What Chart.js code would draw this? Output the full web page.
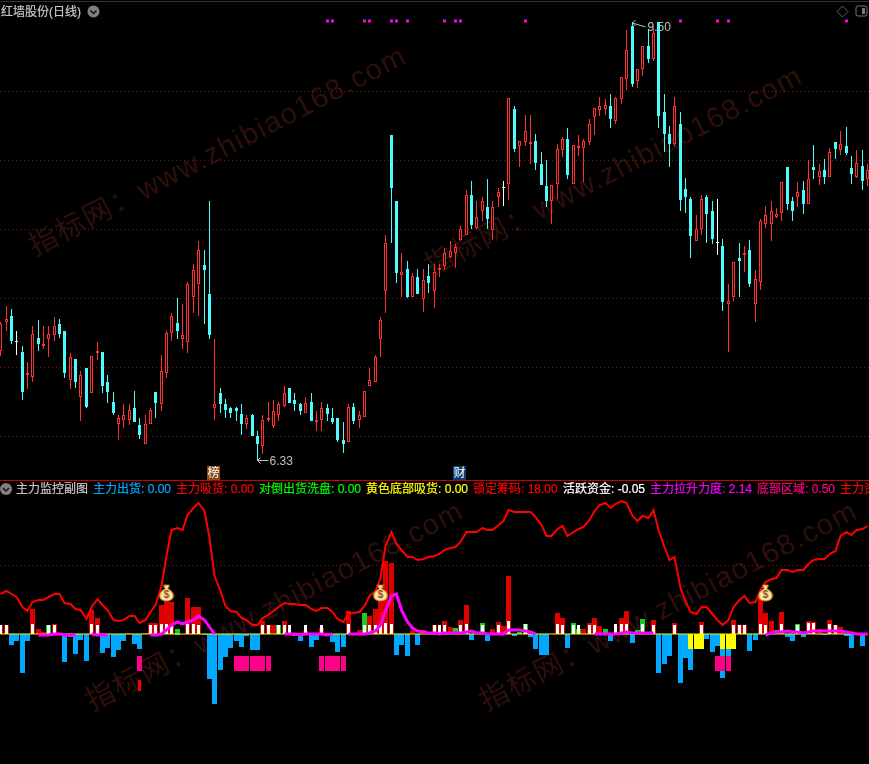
<!DOCTYPE html>
<html lang="zh">
<head>
<meta charset="utf-8">
<title>主力监控副图</title>
<script src="https://cdn.jsdelivr.net/npm/chart.js@4/dist/chart.umd.js"></script>
<style>
    html, body { margin: 0; padding: 0; width: 869px; height: 764px; background: #000; overflow: hidden; }
    body { position: relative; font-family: "Liberation Sans", "Noto Sans CJK SC", sans-serif; font-size: 12px; }
    canvas { position: absolute; left: 0; z-index: 2; }
    #price-chart { top: 0; }
    #flow-chart { top: 481px; }
    .mark { position: absolute; white-space: nowrap; line-height: 14px; z-index: 3; -webkit-text-stroke: 0.2px currentColor; }
    .rule { position: absolute; left: 0; width: 869px; height: 1px; z-index: 3; }
    .watermark { position: absolute; white-space: nowrap; z-index: 1; color: #2e0f0a; font-size: 29px; letter-spacing: 1.5px;
                 line-height: 1; transform-origin: 0 100%; transform: rotate(-27.5deg); }
    .badge { position: absolute; width: 13px; height: 14px; line-height: 14px; color: #fff; text-align: center; z-index: 3; }
    svg.icon { position: absolute; z-index: 3; }
</style>
</head>
<body>
<div class="watermark" style="left:37px;top:232px">指标网：www.zhibiao168.com</div>
<div class="watermark" style="left:433px;top:252px">指标网：www.zhibiao168.com</div>
<div class="watermark" style="left:94px;top:687px">指标网：www.zhibiao168.com</div>
<div class="watermark" style="left:488px;top:687px">指标网：www.zhibiao168.com</div>

<canvas id="price-chart" width="869" height="479"></canvas>
<canvas id="flow-chart" width="869" height="283"></canvas>

<div class="rule" style="top:1px;background:#333"></div>
<div class="rule" style="top:480px;background:#c80000"></div>

<div class="mark" style="left:1px;top:5px;color:#c8c8c8">红墙股份(日线)</div>
<svg class="icon" style="left:87px;top:5px" width="13" height="13"><circle cx="6.5" cy="6.5" r="6" fill="#808080"/><path d="M3.5 5.5 L6.5 8.5 L9.5 5.5" stroke="#111" stroke-width="1.4" fill="none"/></svg>
<svg class="icon" style="left:836px;top:5px" width="13" height="13"><path d="M6.5 1 L12 6.5 L6.5 12 L1 6.5 Z" stroke="#666" fill="none"/></svg>
<svg class="icon" style="left:855px;top:5px" width="13" height="13"><rect x="1" y="1" width="11" height="10" rx="2" stroke="#777" fill="none"/><rect x="7" y="3" width="3" height="6" fill="#777"/></svg>
<div class="badge" style="left:207px;top:466px;background:#8a4a12">榜</div>
<div class="badge" style="left:453px;top:466px;background:#0c3a72">财</div>

<svg class="icon" style="left:0;top:483px" width="13" height="13"><circle cx="6" cy="6" r="6" fill="#808080"/><path d="M3 5 L6 8 L9 5" stroke="#111" stroke-width="1.4" fill="none"/></svg>
<div class="mark" style="left:16px;top:482px;color:#c8c8c8">主力监控副图</div>
<div class="mark" style="left:93px;top:482px;color:#00a8ff">主力出货: 0.00</div>
<div class="mark" style="left:176px;top:482px;color:#ff0000">主力吸货: 0.00</div>
<div class="mark" style="left:259px;top:482px;color:#00ff00">对倒出货洗盘: 0.00</div>
<div class="mark" style="left:366px;top:482px;color:#ffff00">黄色底部吸货: 0.00</div>
<div class="mark" style="left:473px;top:482px;color:#ff0000">锁定筹码: 18.00</div>
<div class="mark" style="left:563px;top:482px;color:#ffffff">活跃资金: -0.05</div>
<div class="mark" style="left:650px;top:482px;color:#ff00ff">主力拉升力度: 2.14</div>
<div class="mark" style="left:757px;top:482px;color:#ff0080">底部区域: 0.50</div>
<div class="mark" style="left:840px;top:482px;color:#ff0000">主力资金</div>

<script>
// ── Price pane data ─────────────────────────────────────────

const candleHigh = [
    7.33,7.44,7.42,7.26,7.15,7.04,7.30,7.34,7.30,7.30,
    7.36,7.35,7.26,7.10,7.06,6.97,6.99,7.08,7.18,7.11,
    6.94,6.82,6.65,6.73,6.73,6.83,6.63,6.65,6.70,6.82,
    7.09,7.26,7.39,7.50,7.46,7.62,7.75,7.91,7.85,8.20,
    7.20,6.85,6.77,6.71,6.71,6.73,6.65,6.66,6.54,6.65,
    6.75,6.76,6.75,6.86,6.85,6.81,6.74,6.78,6.81,6.68,
    6.75,6.73,6.70,6.63,6.60,6.73,6.74,6.68,6.83,6.99,
    7.09,7.36,7.96,8.68,8.20,7.83,7.77,7.68,7.71,7.71,
    7.75,7.75,7.75,7.86,7.91,7.89,8.02,8.28,8.35,8.20,
    8.23,8.36,8.20,8.30,8.35,8.95,8.89,8.64,8.83,8.83,
    8.69,8.56,8.50,8.32,8.62,8.67,8.73,8.61,8.68,8.65,
    8.80,8.88,8.96,8.94,8.98,8.96,9.10,9.44,9.50,9.16,
    9.33,9.45,9.46,9.50,8.98,8.75,8.96,8.85,8.37,8.23,
    8.10,8.25,8.25,8.20,8.22,7.93,7.60,7.76,7.90,7.88,
    7.92,7.70,8.07,8.17,8.20,8.15,8.34,8.45,8.23,8.34,
    8.35,8.50,8.61,8.47,8.51,8.59,8.63,8.71,8.74,8.53,
    8.57,8.57,8.47
];

const candleLow = [
    7.08,7.26,7.17,7.09,6.76,6.84,6.89,7.12,7.13,7.07,
    7.19,7.21,6.92,6.84,6.85,6.61,6.70,6.81,7.05,6.81,
    6.74,6.65,6.47,6.56,6.58,6.60,6.48,6.44,6.59,6.63,
    6.68,6.92,7.19,7.20,7.13,7.10,7.39,7.37,7.31,7.20,
    6.62,6.67,6.63,6.63,6.61,6.51,6.55,6.50,6.33,6.37,
    6.60,6.56,6.61,6.71,6.74,6.68,6.65,6.67,6.61,6.54,
    6.54,6.61,6.59,6.46,6.38,6.46,6.59,6.56,6.64,6.86,
    6.89,7.07,7.39,7.90,7.61,7.51,7.50,7.51,7.53,7.40,
    7.54,7.43,7.65,7.70,7.79,7.72,7.91,7.96,8.00,8.00,
    8.06,8.00,7.92,8.16,8.17,8.21,8.56,8.45,8.60,8.47,
    8.43,8.32,8.16,8.04,8.22,8.52,8.36,8.33,8.53,8.34,
    8.61,8.68,8.82,8.83,8.73,8.76,8.91,9.01,9.03,9.02,
    9.11,9.20,9.22,8.73,8.56,8.45,8.60,8.13,8.12,7.79,
    7.91,7.96,7.90,7.89,7.81,7.41,7.11,7.48,7.51,7.69,
    7.58,7.33,7.56,8.01,7.91,8.08,8.06,8.14,8.06,8.16,
    8.11,8.18,8.36,8.32,8.33,8.38,8.51,8.54,8.54,8.33,
    8.37,8.28,8.31
];

const candleOpen = [
    7.12,7.33,7.37,7.18,7.11,6.94,6.93,7.21,7.15,7.20,
    7.23,7.31,7.26,6.91,7.06,6.78,6.99,6.81,7.10,7.11,
    6.89,6.75,6.59,6.62,6.62,6.70,6.58,6.44,6.59,6.82,
    6.73,6.96,7.25,7.32,7.20,7.18,7.51,7.60,7.74,7.53,
    6.70,6.81,6.73,6.70,6.70,6.66,6.59,6.65,6.50,6.43,
    6.62,6.57,6.65,6.72,6.85,6.76,6.73,6.67,6.75,6.60,
    6.62,6.70,6.63,6.63,6.47,6.46,6.71,6.62,6.64,6.86,
    6.89,7.20,7.55,8.68,8.20,7.67,7.71,7.51,7.65,7.49,
    7.66,7.55,7.70,7.73,7.80,7.83,7.92,7.96,8.25,8.01,
    8.13,8.16,7.99,8.23,8.30,8.33,8.87,8.60,8.63,8.62,
    8.64,8.47,8.31,8.20,8.33,8.57,8.65,8.33,8.59,8.59,
    8.63,8.81,8.86,8.87,8.89,8.78,8.94,9.09,9.47,9.07,
    9.16,9.33,9.23,9.50,8.85,8.69,8.62,8.76,8.29,8.22,
    7.91,8.00,8.23,8.13,7.90,7.88,7.46,7.51,7.79,7.81,
    7.85,7.46,7.62,8.04,8.04,8.09,8.12,8.45,8.20,8.23,
    8.28,8.18,8.45,8.38,8.43,8.38,8.63,8.57,8.60,8.44,
    8.38,8.46,8.36
];

const candleClose = [
    7.31,7.35,7.19,7.18,6.82,6.96,7.24,7.17,7.17,7.24,
    7.30,7.24,6.96,7.07,6.89,6.94,6.71,7.08,7.12,6.86,
    6.82,6.67,6.63,6.65,6.69,6.60,6.51,6.59,6.69,6.74,
    6.97,7.25,7.37,7.26,7.23,7.60,7.70,7.85,7.70,7.23,
    6.73,6.73,6.69,6.67,6.68,6.59,6.63,6.50,6.44,6.62,
    6.63,6.68,6.73,6.81,6.74,6.73,6.68,6.74,6.61,6.62,
    6.70,6.66,6.60,6.47,6.44,6.71,6.61,6.65,6.83,6.91,
    7.07,7.34,7.90,8.30,7.68,7.69,7.51,7.66,7.53,7.63,
    7.61,7.69,7.72,7.83,7.84,7.87,8.00,8.25,8.03,8.09,
    8.20,8.07,8.16,8.27,8.30,8.95,8.58,8.64,8.71,8.63,
    8.48,8.32,8.20,8.32,8.58,8.65,8.39,8.61,8.60,8.64,
    8.76,8.88,8.89,8.90,8.80,8.95,9.10,9.30,9.05,9.16,
    9.33,9.23,9.42,8.82,8.69,8.62,8.89,8.21,8.23,7.95,
    8.00,8.22,8.11,7.93,7.90,7.47,7.48,7.76,7.77,7.83,
    7.60,7.64,8.06,8.10,8.13,8.11,8.34,8.18,8.13,8.27,
    8.18,8.36,8.43,8.42,8.38,8.56,8.58,8.62,8.55,8.40,
    8.48,8.35,8.43
];

const priceTicks = [6.5, 7, 7.5, 8, 8.5, 9];
const signalIndexes = [61, 62, 68, 69, 73, 74, 76, 83, 85, 86, 98, 127, 134, 136, 158];
const signalPrice = 9.51;
const lowMark = { index: 48, price: 6.33, label: '6.33' };
const highMark = { index: 118, price: 9.50, label: '9.50' };

// ── Flow pane data ([bar index, value] pairs) ───────────────

const outflowBars = [
    [2,-2.27],[3,-1.47],[4,-7.73],[5,-1.33],[12,-5.53],[13,-0.5],[14,-3.93],[15,-1.13],[16,-5.33],
    [19,-3.73],[20,-2.73],[21,-4.53],[22,-3.13],[23,-1.33],[25,-1.93],[26,-2.93],[33,-0.2],[38,-0.2],
    [39,-8.93],[40,-13.93],[41,-7.13],[42,-4.53],[43,-2.73],[44,-1.33],[45,-2.53],[46,-0.47],[47,-3.13],[48,-3.13],
    [55,-0.47],[56,-1.33],[58,-2.53],[59,-1.13],[62,-1.53],[63,-3.53],[64,-2.53],
    [74,-4.13],[75,-2.13],[76,-4.33],[78,-2.13],[88,-1.13],[91,-1.33],[96,-0.47],
    [99,-0.67],[100,-2.93],[101,-4.13],[102,-4.13],[106,-2.73],[114,-1.33],[118,-1.73],
    [123,-7.73],[124,-5.93],[125,-4.33],[127,-9.73],[128,-4.73],[129,-7.13],
    [132,-0.93],[133,-3.53],[134,-2.33],[135,-8.73],[136,-7.33],[140,-3.33],[141,-1.13],
    [147,-0.67],[148,-1.33],[150,-0.67],[154,-0.27],[158,-0.47],[159,-2.73],[161,-2.33]
];

const inflowBars = [
    [0,1.87],[1,1.87],[6,5.07],[7,1.07],[8,0.47],[10,2.07],[17,4.87],[18,3.27],[24,0.2],[27,0.2],
    [28,2.27],[29,2.27],[30,5.87],[31,6.87],[32,6.47],[35,7.27],[36,5.47],[37,5.47],
    [49,2.67],[50,1.87],[51,1.87],[53,2.67],[57,0.67],[60,1.2],[65,4.67],[67,0.87],[69,3.67],[70,5.07],
    [71,7.07],[72,14.67],[73,14.27],[77,0.67],[79,0.87],[81,1.87],[83,2.67],[84,1.47],[86,2.87],[87,5.87],
    [92,1.07],[93,2.47],[94,1.67],[95,11.67],[104,4.27],[105,3.27],[109,1.07],[110,2.27],[111,3.27],[112,1.67],
    [116,3.27],[117,4.67],[122,2.87],[126,2.27],[131,2.47],[137,2.87],[138,1.87],[139,1.87],
    [142,7.27],[143,4.27],[144,2.67],[146,4.47],[151,2.67],[152,2.47],[153,1.07],[155,2.87],[156,1.87],[157,1.47]
];

const washBars = [
    [9,1.87],[33,1.07],[52,1.87],[68,4.27],[85,1.27],[90,2.27],[97,0.4],[98,2.07],[107,2.27],[108,1.07],
    [113,1.07],[119,0.87],[120,3.07],[145,0.87],[149,2.07]
];

const activeBars = [
    [0,1.87],[1,1.87],[6,2.07],[9,1.87],[10,1.87],[17,2.07],[18,1.87],[28,1.87],[29,1.87],[30,2.07],[31,2.07],
    [32,1.87],[35,2.07],[36,2.07],[37,1.87],[49,1.87],[50,1.87],[52,1.87],[53,1.87],[54,1.87],[57,1.87],[60,1.87],
    [65,2.07],[68,1.87],[69,1.87],[70,1.87],[71,1.87],[72,2.27],[73,2.07],[81,1.87],[82,1.87],[83,1.87],[86,1.87],
    [87,2.07],[90,1.87],[93,1.87],[95,2.67],[98,2.07],[104,2.07],[105,1.87],[107,1.87],[108,1.87],[110,1.87],
    [111,1.87],[115,2.07],[116,2.07],[117,2.07],[120,2.07],[122,1.87],[126,1.87],[131,1.87],[137,1.87],[138,1.87],
    [139,1.87],[142,2.07],[143,1.87],[146,2.07],[149,1.87],[151,2.27],[152,2.27],[155,2.07],[156,1.87]
];

const yellowBars = [[129,-2.93],[130,-2.93],[131,-2.93],[135,-2.93],[136,-2.93],[137,-2.93]];

const bottomZoneIndexes = [26, 44, 45, 46, 47, 48, 49, 50, 60, 61, 62, 63, 64, 134, 135, 136];
const bottomZoneRange = [-4.33, -7.33];
const lockBar = [26, [-9.13, -11.33]];

const lockedChips = [
    8.07,8.6,8.07,7.47,5.4,4.6,6.4,6.73,6.87,7.47,
    8.0,8.0,6.2,6.07,5.0,4.87,3.0,5.4,7.07,5.87,
    4.87,2.73,2.67,2.73,3.67,3.67,2.2,2.87,4.33,5.87,
    9.53,15.53,20.87,21.13,20.73,23.87,25.2,26.2,24.53,19.2,
    11.53,8.53,5.53,4.6,4.33,3.2,2.87,1.87,1.87,3.2,
    3.87,4.53,5.33,6.2,6.07,6.07,5.73,5.73,5.0,4.67,
    5.2,5.2,4.4,3.07,2.33,4.2,4.2,4.4,5.53,7.53,
    8.53,11.2,17.53,20.4,18.07,16.73,15.4,15.4,14.87,15.0,
    15.4,15.53,16.0,16.87,17.13,17.33,18.33,20.4,20.33,20.4,
    21.27,20.87,20.87,21.87,22.53,24.87,24.47,24.47,24.47,24.47,
    23.4,21.87,19.53,19.53,21.0,21.53,19.67,20.4,21.07,21.4,
    22.87,24.53,25.87,26.13,25.2,26.0,26.67,26.2,23.53,22.67,
    23.53,23.2,24.73,20.87,17.4,14.87,15.4,9.2,6.53,4.33,
    4.07,5.4,5.4,4.07,2.73,1.8,2.73,5.4,6.73,7.53,
    6.2,6.33,8.87,10.33,11.0,11.2,12.87,12.73,12.33,12.8,
    12.87,14.0,14.73,14.93,15.07,16.07,16.53,19.53,20.47,19.87,
    20.87,21.0,21.53
];

const pullUpForce = [
    null,null,null,null,null,null,null,-0.2,-0.2,-0.2,
    0,0,-0.2,-0.2,-0.2,null,null,0,-0.2,-0.2,
    -0.2,null,null,null,null,null,null,null,-0.2,-0.2,
    0,0.8,1.87,2.33,2.07,2.33,2.87,3.67,2.87,1.47,
    0,null,null,null,null,null,null,null,null,null,
    null,null,null,0,0,0,-0.1,0,0,0,
    0,-0.1,0,null,null,0,0,0,0,0.2,
    0.6,1.8,4.53,7.67,7.93,4.87,2.33,1.27,0.53,0.33,
    0.2,0.2,0,0.2,0.2,0.2,0.2,0.4,0.6,0.2,
    0.2,0.07,0.07,0.07,0.07,0.8,0.8,0.87,0.6,0.4,
    0.07,null,null,null,null,null,null,null,null,null,
    null,0,0,0,0,0,0.2,0.4,0.2,0.2,
    0.2,0.2,0.2,null,null,null,null,null,null,null,
    null,null,null,null,null,null,null,null,null,null,
    null,null,null,-0.2,0.2,0.33,0.4,0.6,0.4,0.33,
    0.2,0.47,0.6,0.6,0.6,0.6,0.6,0.6,0.4,0.2,
    0,0,0
];

const moneyBagIndexes = [31, 71, 143];
const moneyBagValue = 8.2;
const flowTicks = [13.8];

// ── Colours ─────────────────────────────────────────────────

const COLORS = {
    up: '#ff3030',
    down: '#4dfcfc',
    doji: '#ffffff',
    grid: '#7c1414',
    label: '#c0c0c0',
    signal: '#ff00ff',
    outflow: '#00a8ff',
    inflow: '#e00000',
    wash: '#10d020',
    active: '#ffffff',
    yellow: '#ffff00',
    zone: '#ff0088',
    lock: '#ff0000',
    force: '#ff00ff'
};

// ── Scale that lands on whole pixels, like the terminal does ─

class SnapScale extends Chart.LinearScale {
    getPixelForValue(value) {
        const px = super.getPixelForValue(value);
        return this.isHorizontal() ? Math.floor(px) + 0.5 : Math.round(px);
    }
}
SnapScale.id = 'snap';
SnapScale.defaults = Chart.LinearScale.defaults;
Chart.register(SnapScale);

// ── Helpers ─────────────────────────────────────────────────

const barSlot = 5.35;
const barOffset = 0.7;

function xAxis(width) {
    return {
        type: 'snap',
        display: false,
        offset: false,
        min: -barOffset / barSlot,
        max: (width - barOffset) / barSlot
    };
}

function yAxis(min, max, tickValues) {
    return {
        type: 'snap',
        min,
        max,
        afterBuildTicks: (scale) => { scale.ticks = tickValues.map(value => ({ value })); },
        afterFit: (scale) => { scale.width = 0; },
        ticks: { display: false },
        border: { display: false, dash: [1, 3] },
        grid: { color: COLORS.grid, drawTicks: false }
    };
}

function barSet(points, color, thickness, order) {
    return {
        type: 'bar',
        data: points,
        backgroundColor: color,
        borderWidth: 0,
        barThickness: thickness,
        grouped: false,
        inflateAmount: 0,
        order
    };
}

function pairsToPoints(pairs) {
    return pairs.map(([x, y]) => ({ x, y }));
}

function candleColor(i) {
    if (candleClose[i] > candleOpen[i]) return COLORS.up;
    if (candleClose[i] < candleOpen[i]) return COLORS.down;
    return COLORS.doji;
}

function makeMoneyBag() {
    const icon = document.createElement('canvas');
    icon.width = 16;
    icon.height = 18;
    const ctx = icon.getContext('2d');
    ctx.fillStyle = '#ffe690';
    ctx.strokeStyle = '#b8701a';
    ctx.beginPath();
    ctx.moveTo(5, 1);
    ctx.lineTo(11, 1);
    ctx.lineTo(9.5, 5);
    ctx.bezierCurveTo(17, 8, 17, 17, 8, 17);
    ctx.bezierCurveTo(-1, 17, -1, 8, 6.5, 5);
    ctx.closePath();
    ctx.fill();
    ctx.stroke();
    ctx.fillStyle = '#8a3c40';
    ctx.font = 'bold 10px "Liberation Sans"';
    ctx.textAlign = 'center';
    ctx.textBaseline = 'middle';
    ctx.fillText('$', 8, 11.5);
    return icon;
}

// ── Price marks (high / low arrows) ─────────────────────────

const extremeMarks = {
    id: 'extremeMarks',
    beforeDatasetsDraw(chart) {
        const { ctx, scales } = chart;
        ctx.save();
        ctx.strokeStyle = COLORS.label;
        ctx.fillStyle = COLORS.label;
        ctx.font = '12px "Liberation Sans"';
        ctx.textBaseline = 'middle';

        const lx = scales.x.getPixelForValue(lowMark.index);
        const ly = scales.y.getPixelForValue(lowMark.price);
        ctx.beginPath();
        ctx.moveTo(lx, ly + 0.5);
        ctx.lineTo(lx + 11, ly + 0.5);
        ctx.moveTo(lx + 3, ly - 2.5);
        ctx.lineTo(lx, ly + 0.5);
        ctx.lineTo(lx + 3, ly + 3.5);
        ctx.stroke();
        ctx.fillText(lowMark.label, lx + 12, ly + 2);

        const hx = scales.x.getPixelForValue(highMark.index);
        const hy = scales.y.getPixelForValue(highMark.price);
        ctx.beginPath();
        ctx.moveTo(hx, hy + 1);
        ctx.lineTo(hx + 13, hy + 5);
        ctx.moveTo(hx + 3, hy - 2);
        ctx.lineTo(hx, hy + 1);
        ctx.lineTo(hx + 3, hy + 4);
        ctx.stroke();
        ctx.fillText(highMark.label, hx + 15, hy + 6);
        ctx.restore();
    }
};

// ── Charts ──────────────────────────────────────────────────

const sharedOptions = {
    responsive: false,
    animation: false,
    devicePixelRatio: 1,
    layout: { padding: 0, autoPadding: false },
    plugins: { legend: { display: false }, tooltip: { enabled: false } }
};

function initPriceChart() {
    const topPrice = 9.66;
    const pxPerYuan = 138;
    const height = 479;
    const indexes = candleOpen.map((_, i) => i);

    new Chart(document.getElementById('price-chart'), {
        data: {
            datasets: [
                {
                    type: 'bar',
                    data: indexes.map(i => ({ x: i, y: [candleLow[i], candleHigh[i]] })),
                    backgroundColor: indexes.map(candleColor),
                    borderWidth: 0,
                    barThickness: 1,
                    grouped: false,
                    inflateAmount: 0,
                    order: 3
                },
                {
                    type: 'bar',
                    data: indexes.map(i => ({ x: i, y: [candleOpen[i], candleClose[i]] })),
                    backgroundColor: indexes.map(i => candleClose[i] > candleOpen[i] ? '#000' : candleColor(i)),
                    borderColor: indexes.map(candleColor),
                    borderWidth: 1,
                    borderSkipped: false,
                    barThickness: 3,
                    minBarLength: 1,
                    grouped: false,
                    inflateAmount: 0,
                    order: 2
                },
                {
                    type: 'line',
                    data: signalIndexes.map(x => ({ x, y: signalPrice })),
                    showLine: false,
                    pointStyle: 'rect',
                    pointRadius: 2.1,
                    backgroundColor: COLORS.signal,
                    borderWidth: 0,
                    order: 1
                }
            ]
        },
        options: {
            ...sharedOptions,
            scales: {
                x: xAxis(869),
                y: yAxis(topPrice - height / pxPerYuan, topPrice, priceTicks)
            }
        },
        plugins: [extremeMarks]
    });
}

function initFlowChart() {
    const indexes = lockedChips.map((_, i) => i);

    new Chart(document.getElementById('flow-chart'), {
        data: {
            datasets: [
                barSet(pairsToPoints(outflowBars), COLORS.outflow, 5, 9),
                barSet(pairsToPoints(yellowBars), COLORS.yellow, 5, 8),
                barSet(bottomZoneIndexes.map(x => ({ x, y: bottomZoneRange })), COLORS.zone, 5, 7),
                barSet([{ x: lockBar[0], y: lockBar[1] }], COLORS.lock, 3, 7),
                barSet(pairsToPoints(inflowBars), COLORS.inflow, 5, 6),
                barSet(pairsToPoints(washBars), COLORS.wash, 5, 5),
                barSet(pairsToPoints(activeBars), COLORS.active, 3, 4),
                {
                    type: 'line',
                    data: indexes.map(x => ({ x, y: 0 })),
                    borderColor: COLORS.yellow,
                    borderWidth: 1,
                    pointRadius: 0,
                    order: 3.5
                },
                {
                    type: 'line',
                    data: indexes.map(x => ({ x, y: lockedChips[x] })),
                    borderColor: COLORS.lock,
                    borderWidth: 2,
                    pointRadius: 0,
                    tension: 0,
                    order: 3
                },
                {
                    type: 'line',
                    data: indexes.map(x => ({ x, y: pullUpForce[x] })),
                    borderColor: COLORS.force,
                    borderWidth: 3,
                    pointRadius: 0,
                    tension: 0,
                    spanGaps: false,
                    order: 2
                },
                {
                    type: 'line',
                    data: moneyBagIndexes.map(x => ({ x, y: moneyBagValue })),
                    showLine: false,
                    pointStyle: makeMoneyBag(),
                    order: 1
                }
            ]
        },
        options: {
            ...sharedOptions,
            clip: false,
            scales: {
                x: xAxis(869),
                y: yAxis(-26, 30.6, flowTicks)
            }
        }
    });
}

// ── Initialize ──────────────────────────────────────────────

initPriceChart();
initFlowChart();
</script>
</body>
</html>
